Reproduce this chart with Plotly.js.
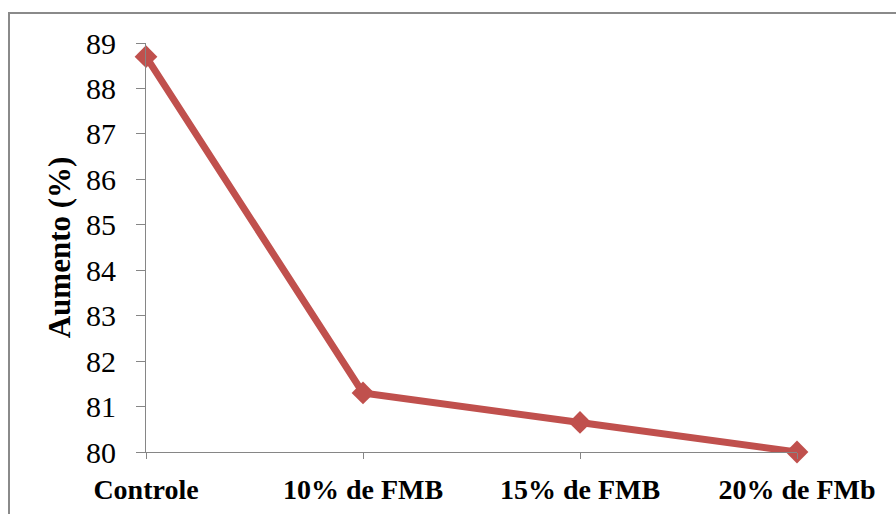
<!DOCTYPE html>
<html>
<head>
<meta charset="utf-8">
<script src="https://cdn.plot.ly/plotly-3.0.1.min.js"></script>
<style>
  html, body { margin: 0; padding: 0; background: #fff; }
  #chart { width: 896px; height: 514px; }
  #chart svg text { font-family: 'Liberation Serif', serif !important; }
  #frame {
    position: absolute; left: 8px; top: 12px;
    width: 888px; height: 502px;
    border-left: 2px solid #8a8a8a; border-top: 2px solid #8a8a8a;
    pointer-events: none;
  }
</style>
</head>
<body>
<div id="chart"></div>
<div id="frame"></div>
<script>
// Aumento (%) per treatment
const categories = ['Controle', '10% de FMB', '15% de FMB', '20% de FMb'];
const aumento = [88.7, 81.3, 80.65, 80.0];
const yTicks = [80, 81, 82, 83, 84, 85, 86, 87, 88, 89];

const axisGray = '#868686';

const trace = {
  type: 'scatter',
  mode: 'lines+markers',
  x: categories,
  y: aumento,
  line: { color: '#C0504D', width: 7 },
  marker: { symbol: 'diamond', size: 17.5, color: '#C0504D' },
  cliponaxis: false
};

const layout = {
  width: 896,
  height: 514,
  margin: { l: 146, r: 99, t: 43, b: 62 },
  font: { family: 'Liberation Serif, serif', size: 28, color: '#000' },
  paper_bgcolor: '#ffffff',
  plot_bgcolor: '#ffffff',
  showlegend: false,
  xaxis: {
    type: 'category',
    range: [0, 3],
    tickvals: categories,
    ticktext: categories.map(c => '<b>' + c + '</b>'),
    showgrid: false,
    zeroline: false,
    showline: true,
    linecolor: axisGray,
    linewidth: 1,
    ticks: 'outside',
    ticklen: 6,
    tickcolor: axisGray,
    ticklabelstandoff: 6,
    tickfont: { family: 'Liberation Serif, serif', size: 28, color: '#000' }
  },
  yaxis: {
    range: [80, 89],
    tickvals: yTicks,
    ticktext: yTicks.map(String),
    showgrid: false,
    zeroline: false,
    showline: true,
    linecolor: axisGray,
    linewidth: 1,
    ticks: 'outside',
    ticklen: 9,
    tickcolor: axisGray,
    ticklabelstandoff: 14,
    tickfont: { family: 'Liberation Serif, serif', size: 30, color: '#000' },
    title: {
      text: '<b>Aumento (%)</b>',
      font: { family: 'Liberation Serif, serif', size: 31, color: '#000' },
      standoff: 6
    }
  }
};

Plotly.newPlot('chart', [trace], layout, { staticPlot: true });
</script>
</body>
</html>
